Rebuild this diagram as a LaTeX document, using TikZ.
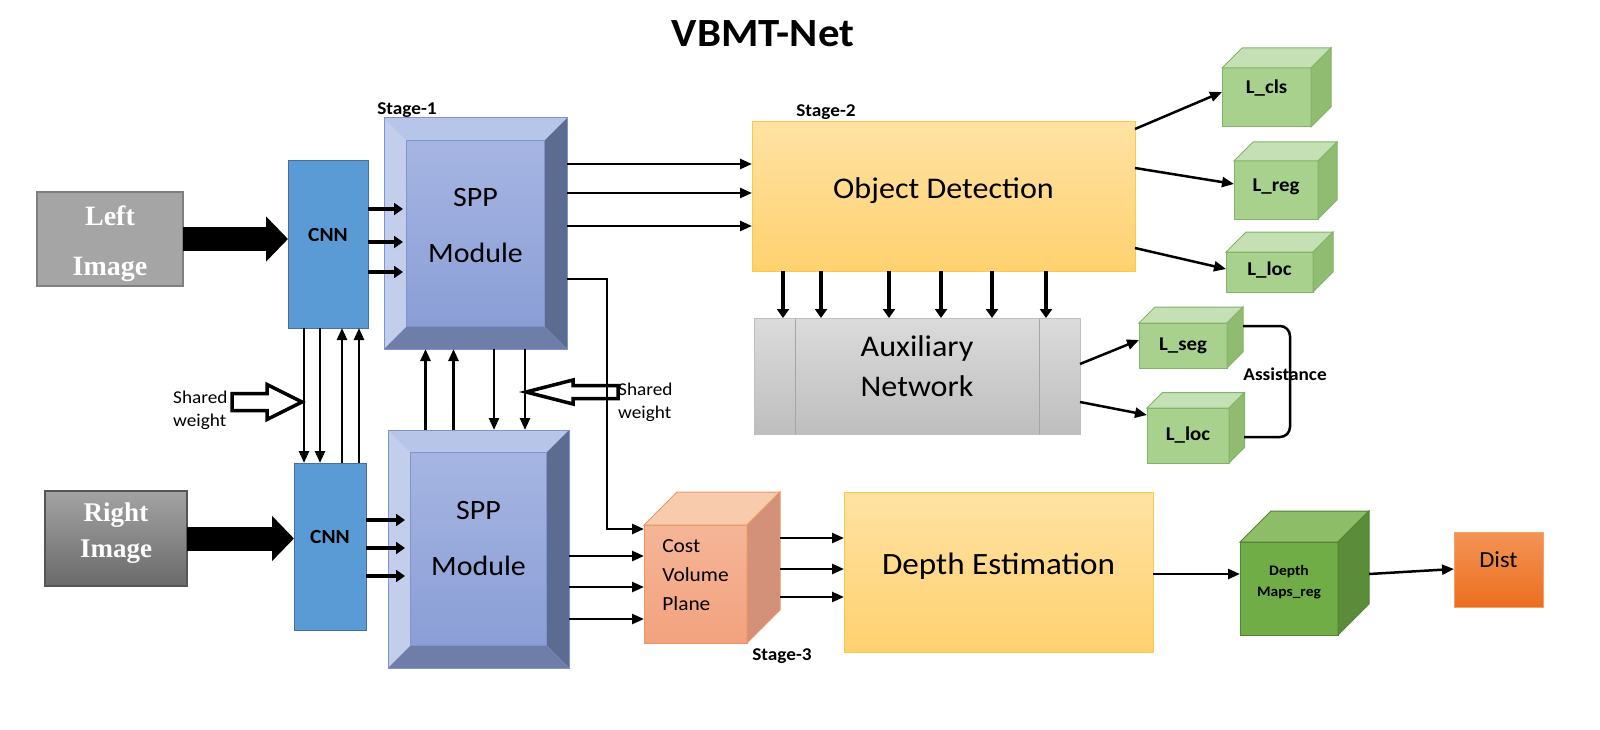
\documentclass[tikz,border=0pt]{standalone}
\usepackage{fontspec}
\setmainfont{Carlito}[FakeStretch=1.07]
\newfontfamily\imgfont{Liberation Serif}
\usetikzlibrary{arrows.meta, calc, positioning}

\definecolor{imggray}{HTML}{A5A5A5}
\definecolor{imgedge}{HTML}{7F7F7F}
\definecolor{rimgtop}{HTML}{A3A3A3}
\definecolor{rimgbot}{HTML}{6A6A6A}
\definecolor{cnnblue}{HTML}{5B9BD5}
\definecolor{cnnedge}{HTML}{41719C}
\definecolor{sppleft}{HTML}{C3CEEC}
\definecolor{spptop}{HTML}{B7C5E8}
\definecolor{sppright}{HTML}{5C6B90}
\definecolor{sppbottom}{HTML}{6F7EA9}
\definecolor{sppinA}{HTML}{A6B5E2}
\definecolor{sppinB}{HTML}{8A9ED6}
\definecolor{sppedge}{HTML}{7F93CF}
\definecolor{odtop}{HTML}{FFE2A3}
\definecolor{odbot}{HTML}{FFD170}
\definecolor{odedge}{HTML}{FFC845}
\definecolor{auxtop}{HTML}{DBDBDB}
\definecolor{auxbot}{HTML}{BEBEBE}
\definecolor{auxedge}{HTML}{BFBFBF}
\definecolor{auxline}{HTML}{A5A5A5}
\definecolor{lgfront}{HTML}{A9D18E}
\definecolor{lgtop}{HTML}{C5E0B4}
\definecolor{lgside}{HTML}{8FBC71}
\definecolor{lgedge}{HTML}{82B366}
\definecolor{cvtop}{HTML}{F8CBAD}
\definecolor{cvfrontA}{HTML}{F5B598}
\definecolor{cvfrontB}{HTML}{F3A27E}
\definecolor{cvside}{HTML}{D39179}
\definecolor{cvedge}{HTML}{EE965F}
\definecolor{dmfront}{HTML}{70AD47}
\definecolor{dmtop}{HTML}{8DBE67}
\definecolor{dmside}{HTML}{5A8C39}
\definecolor{dmedge}{HTML}{548235}
\definecolor{disttop}{HTML}{F39455}
\definecolor{distbot}{HTML}{EC6E1F}
\definecolor{distedge}{HTML}{F4A06A}

% extra depth below the text, lifts it inside its box
\newcommand{\lift}[1]{\rule[-#1pt]{0pt}{0pt}}
% top and side faces of a box drawn as a cube
\newcommand{\cubefaces}[4]{%
  \filldraw[#3] (#1.north west) -- ++(#2,-#2) -- ($(#1.north east)+(#2,-#2)$) -- (#1.north east) -- cycle;
  \filldraw[#4] (#1.north east) -- ++(#2,-#2) -- ($(#1.south east)+(#2,-#2)$) -- (#1.south east) -- cycle;
}

\begin{document}
\begin{tikzpicture}[x=1pt, y=-1pt,
    box/.style={draw, outer sep=0pt, inner sep=2pt, align=center},
    imgbox/.style={box, draw=imgedge, line width=1.5pt, text=white},
    cnnbox/.style={box, fill=cnnblue, draw=cnnedge, line width=1pt, font=\bfseries\fontsize{20}{24}\selectfont},
    sppbox/.style={box, draw=sppedge, line width=1pt, fill=sppleft, font=\fontsize{28}{56}\selectfont,
        path picture={
            \path (path picture bounding box.north west) coordinate (pnw)
                  (path picture bounding box.north east) coordinate (pne)
                  (path picture bounding box.south west) coordinate (psw)
                  (path picture bounding box.south east) coordinate (pse);
            \fill[spptop] (pnw) -- (pne) -- ($(pne)+(-22.5,22.5)$) -- ($(pnw)+(22.5,22.5)$) -- cycle;
            \fill[sppright] (pne) -- (pse) -- ($(pse)+(-22.5,-22.5)$) -- ($(pne)+(-22.5,22.5)$) -- cycle;
            \fill[sppbottom] (psw) -- (pse) -- ($(pse)+(-22.5,-22.5)$) -- ($(psw)+(22.5,-22.5)$) -- cycle;
            \shadedraw[top color=sppinA, bottom color=sppinB, draw=sppedge, line width=0.8pt]
                ($(pnw)+(22.5,22.5)$) rectangle ($(pse)+(-22.5,-22.5)$);
        }},
    yellowbox/.style={box, top color=odtop, bottom color=odbot, draw=odedge, line width=1pt, font=\fontsize{30}{40}\selectfont},
    auxbox/.style={box, top color=auxtop, bottom color=auxbot, draw=auxedge, line width=1pt, font=\fontsize{30}{40}\selectfont,
        path picture={
            \draw[auxline, line width=1pt] ([xshift=41pt]path picture bounding box.north west) -- ([xshift=41pt]path picture bounding box.south west);
            \draw[auxline, line width=1pt] ([xshift=-41pt]path picture bounding box.north east) -- ([xshift=-41pt]path picture bounding box.south east);
        }},
    lossbox/.style={box, fill=lgfront, draw=lgedge, line width=1pt, font=\bfseries\fontsize{19.5}{23}\selectfont},
    losstop/.style={fill=lgtop, draw=lgedge, line width=1pt},
    lossside/.style={fill=lgside, draw=lgedge, line width=1pt},
    stage/.style={font=\bfseries\fontsize{18}{22}\selectfont, inner sep=0pt},
    shared/.style={font=\fontsize{18}{23}\selectfont, align=left, inner sep=0pt, anchor=west},
    hollow/.style={draw=black, line width=3.5pt, fill=white, line join=miter},
    bigarrow/.style={line width=24pt, -{Triangle[length=22pt, width=44pt]}},
    fatarrow/.style={line width=4.5pt, -{Triangle[length=9pt, width=12pt]}},
    thinarrow/.style={line width=2.5pt, -{Triangle[length=12pt, width=10pt]}}
]
    \useasboundingbox (0,0) rectangle (1600,730);
    \fill[white] (0,0) rectangle (1600,730);

    % Title
    \node[font=\bfseries\fontsize{40}{48}\selectfont] (title) at (763,34) {VBMT-Net};

    % Inputs
    \node[imgbox, fill=imggray, minimum width=146, minimum height=94,
          font=\imgfont\bfseries\fontsize{28}{50}\selectfont] (leftimg) at (110,239) {\rule{0pt}{30pt}Left\\Image};
    \node[imgbox, top color=rimgtop, bottom color=rimgbot, draw=rimgbot!80!black, minimum width=142, minimum height=95,
          font=\imgfont\bfseries\fontsize{27}{36}\selectfont] (rightimg) at (116,538.5) {Right\\Image\lift{16}};

    % Backbones
    \node[cnnbox, minimum width=80, minimum height=167] (cnn1) at (328,244.5) {CNN\lift{19}};
    \node[cnnbox, minimum width=72, minimum height=167] (cnn2) at (330,546.5) {CNN\lift{20}};
    \node[sppbox, minimum width=183, minimum height=231] (spp1) at (475.5,233.5) {SPP\\Module\lift{17}};
    \node[sppbox, minimum width=181, minimum height=238] (spp2) at (478.5,549) {SPP\\Module\lift{21}};
    \node[stage] (st1) at (407,110) {Stage-1};

    % Stage 2
    \node[yellowbox, minimum width=383, minimum height=149] (od) at (943.5,196.5) {Object Detection\lift{17}};
    \node[stage] (st2) at (826,112) {Stage-2};
    \node[auxbox, minimum width=326, minimum height=116] (aux) at (917,376) {Auxiliary\\Network\lift{19}};

    % Losses
    \node[lossbox, minimum width=89, minimum height=59] (lcls) at (1266.5,97.5) {L\_cls\lift{22}};
    \cubefaces{lcls}{20}{losstop}{lossside}
    \node[lossbox, minimum width=84, minimum height=58] (lreg) at (1276,190) {L\_reg\lift{10}};
    \cubefaces{lreg}{19}{losstop}{lossside}
    \node[lossbox, minimum width=87, minimum height=40] (lloc) at (1269.5,272) {L\_loc\lift{6}};
    \cubefaces{lloc}{20}{losstop}{lossside}
    \node[lossbox, minimum width=88, minimum height=45] (lseg) at (1183,345.5) {L\_seg};
    \cubefaces{lseg}{16}{losstop}{lossside}
    \node[lossbox, minimum width=82, minimum height=55] (lloc2) at (1188,435.5) {L\_loc\lift{4}};
    \cubefaces{lloc2}{15.5}{losstop}{lossside}

    % Stage 3
    \node[box, top color=cvfrontA, bottom color=cvfrontB, draw=cvedge, line width=1pt, align=left,
          minimum width=103, minimum height=118, font=\fontsize{20}{29}\selectfont] (cv) at (695.5,584) {Cost\\Volume\\Plane\lift{17}};
    \cubefaces{cv}{33}{fill=cvtop, draw=cvedge, line width=1pt}{fill=cvside, draw=cvedge, line width=1pt}
    \node[stage] (st3) at (782,656) {Stage-3};
    \node[yellowbox, font=\fontsize{31}{40}\selectfont, minimum width=309, minimum height=160] (de) at (998.5,572) {Depth Estimation\lift{17}};
    \node[box, fill=dmfront, draw=dmedge, line width=1pt, minimum width=98, minimum height=93,
          font=\bfseries\fontsize{14.5}{21}\selectfont] (dmaps) at (1289,588.5) {Depth\\Maps\_reg\lift{16}};
    \cubefaces{dmaps}{31}{fill=dmtop, draw=dmedge, line width=1pt}{fill=dmside, draw=dmedge, line width=1pt}
    \node[box, top color=disttop, bottom color=distbot, draw=distedge, line width=1pt, minimum width=89, minimum height=75,
          font=\fontsize{23}{26}\selectfont] (dist) at (1498.5,569.5) {Dist\lift{19}};

    % Shared weights
    \coordinate (swl) at (302,402);
    \draw[hollow] (swl) -- ++(-35,-17.5) -- ++(0,9) -- ++(-35,0) -- ++(0,17) -- ++(35,0) -- ++(0,9) -- cycle;
    \node[shared] (swltxt) at (173,410) {Shared\\weight};
    \coordinate (swr) at (526,392);
    \draw[hollow] (swr) -- ++(47,-12) -- ++(0,5.5) -- ++(45,0) -- ++(0,13) -- ++(-45,0) -- ++(0,5.5) -- cycle;
    \node[shared] (swrtxt) at (618,402) {Shared\\weight};

    % Image inputs
    \draw[bigarrow] (leftimg.east) -- (leftimg.east -| cnn1.west);
    \draw[bigarrow] (rightimg.east) -- (rightimg.east -| cnn2.west);

    % CNN to SPP
    \foreach \y in {209,242,272}
        \draw[fatarrow] (cnn1.east |- 0,\y) -- ($(spp1.west |- 0,\y)+(19,0)$);
    \foreach \y in {520,548,576}
        \draw[fatarrow] (cnn2.east |- 0,\y) -- ($(spp2.west |- 0,\y)+(17,0)$);

    % Between the two branches
    \foreach \x in {304,320}
        \draw[thinarrow] (cnn1.south -| \x,0) -- (cnn2.north -| \x,0);
    \foreach \x in {342,359}
        \draw[thinarrow] (cnn2.north -| \x,0) -- (cnn1.south -| \x,0);
    \foreach \x in {494,525}
        \draw[thinarrow] (spp1.south -| \x,0) -- (spp2.north -| \x,0);
    \foreach \x in {425.5,453.5}
        \draw[thinarrow] (spp2.north -| \x,0) -- (spp1.south -| \x,0);

    % SPP to stage 2 and stage 3
    \foreach \y in {164,193,226}
        \draw[thinarrow] (spp1.east |- 0,\y) -- (od.west |- 0,\y);
    \coordinate (bend) at (607,279);
    \draw[thinarrow] (spp1.east |- bend) -- (bend) |- (cv.west |- 0,529);
    \foreach \y in {556,587,619}
        \draw[thinarrow] (spp2.east |- 0,\y) -- (cv.west |- 0,\y);

    % Detection heads
    \draw[thinarrow] (od.east |- 0,129) -- (lcls.west |- 0,92);
    \draw[thinarrow] (od.east |- 0,168) -- (lreg.west |- 0,184);
    \draw[thinarrow] (od.east |- 0,248) -- (lloc.west |- 0,269);
    \foreach \x in {783,821,889,941,992,1046}
        \draw[fatarrow] (od.south -| \x,0) -- (aux.north -| \x,0);
    \draw[thinarrow] (aux.east |- 0,364) -- (lseg.west |- 0,340);
    \draw[thinarrow] (aux.east |- 0,402) -- (lloc2.west |- 0,415);

    % Assistance
    \coordinate (as1) at (1243,326);
    \coordinate (as2) at (1244,437);
    \draw[line width=2.5pt, rounded corners=10pt] (as1) -- (as1 -| 1290,0) -- (as2 -| 1290,0) -- (as2);
    \node[font=\bfseries\fontsize{18}{22}\selectfont, inner sep=0pt] (assist) at (1285,374.5) {Assistance};

    % Depth branch
    \foreach \y in {538,569,597}
        \draw[thinarrow] ($(cv.east |- 0,\y)+(33,0)$) -- (de.west |- 0,\y);
    \draw[thinarrow] (de.east |- 0,574) -- (dmaps.west |- 0,574);
    \draw[thinarrow] ($(dmaps.east |- 0,574)+(31,0)$) -- (dist.west |- 0,569);
\end{tikzpicture}
\end{document}
